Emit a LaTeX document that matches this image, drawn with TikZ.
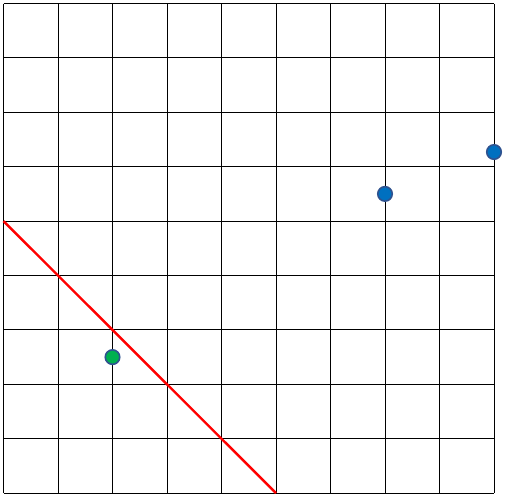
\documentclass[tikz,border=0pt]{standalone}
\usepackage{xcolor}
\usepackage{tikz}
\usetikzlibrary{positioning}
\definecolor{DotBlue}{HTML}{0070C0}
\definecolor{DotEdge}{HTML}{2F528F}
\definecolor{DotGreen}{HTML}{00B050}

\begin{document}
\begin{tikzpicture}[
      x=54.5pt, y=-54.4pt,
      gridline/.style={draw=black, line width=1pt},
      cutline/.style={draw=red, line width=2.4pt},
      dot/.style={
        circle, draw=DotEdge, line width=1.6pt, fill=DotBlue,
        minimum size=14.5pt, inner sep=0pt
      },
      dotOk/.style={dot, fill=DotGreen}
    ]
      \useasboundingbox (-3.5pt,3.5pt) rectangle (502.5pt,-494.5pt);
      \foreach \i in {0,...,9} {
        \draw[gridline] (\i,0) -- (\i,9);
        \draw[gridline] (0,\i) -- (9,\i);
      }
      % dividing line
      \coordinate (lineA) at (0,4);
      \coordinate (lineB) at (5,9);
      \draw[cutline] (lineA) -- (lineB);
      % points
      \node[dotOk] (g1) at (2,6.5) {};
      \node[dot]   (b1) at (7,3.5) {};
      \node[dot]   (b2) at (9,2.73) {};
    \end{tikzpicture}
\end{document}
